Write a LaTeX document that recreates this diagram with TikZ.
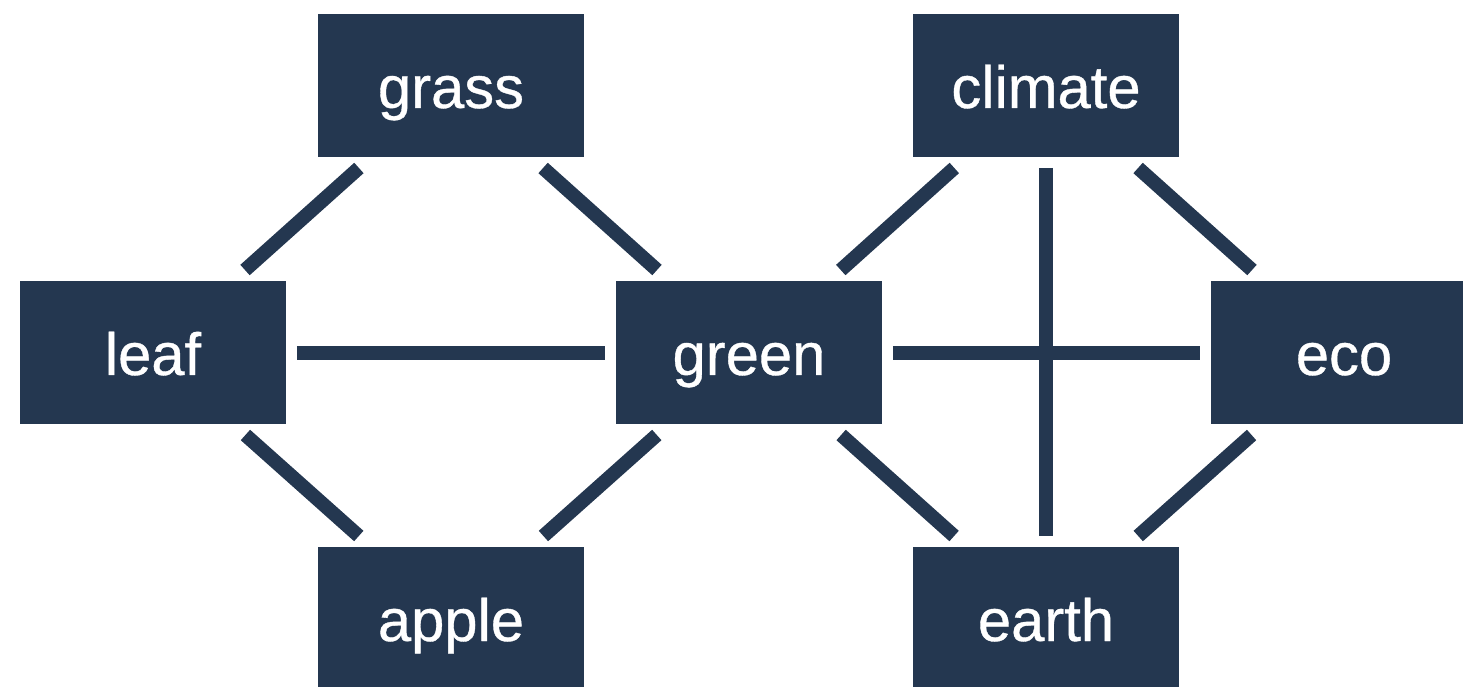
\documentclass[tikz,border=0pt]{standalone}
\usepackage{fontspec}
\setmainfont{Liberation Sans}
\newfontfamily\boxfont[FakeBold=0.6]{Liberation Sans}
\definecolor{navy}{RGB}{36,55,80}
\tikzset{
  box/.style={fill=navy, text=white, minimum width=5.32cm, minimum height=2.86cm,
    inner sep=0pt, outer sep=0.22cm, text height=0.9cm, text depth=0pt,
    font=\boxfont\fontsize{34}{40}\selectfont},
  link/.style={draw=navy, line width=0.28cm, line cap=butt}
}
\begin{document}
\begin{tikzpicture}[x=0.02cm,y=-0.02cm]
\useasboundingbox (0,0) rectangle (1463,686);
\clip (0,0) rectangle (1463,686);
\node[box] (grass) at (451,85.5) {grass};
\node[box] (climate) at (1046,85.5) {climate};
\node[box] (leaf) at (153,352.5) {leaf};
\node[box] (green) at (749,352.5) {green};
\node[box] (eco) at (1344,352.5) {eco};
\node[box] (apple) at (451,618.5) {apple};
\node[box] (earth) at (1046,618.5) {earth};
\draw[link] (grass) -- (leaf);
\draw[link] (grass) -- (green);
\draw[link] (leaf) -- (green);
\draw[link] (leaf) -- (apple);
\draw[link] (apple) -- (green);
\draw[link] (green) -- (climate);
\draw[link] (green) -- (eco);
\draw[link] (green) -- (earth);
\draw[link] (climate) -- (eco);
\draw[link] (climate) -- (earth);
\draw[link] (eco) -- (earth);
\end{tikzpicture}
\end{document}
